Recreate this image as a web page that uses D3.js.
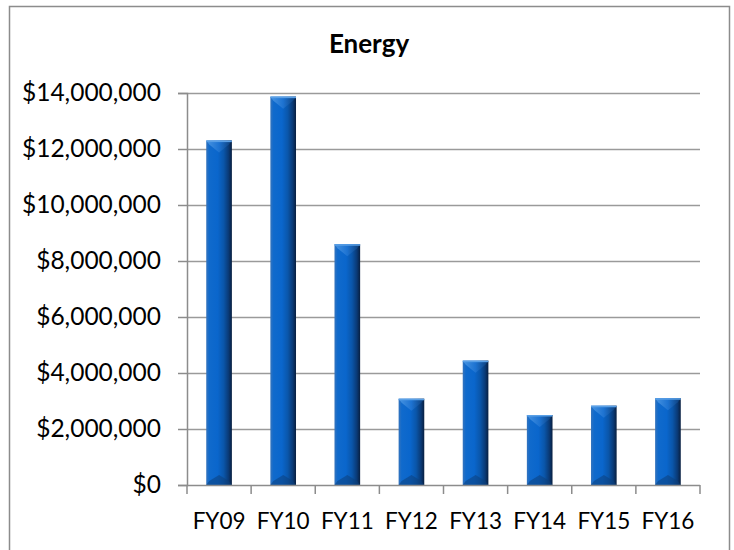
<!DOCTYPE html>
<html>
<head>
<meta charset="utf-8">
<script src="https://cdn.jsdelivr.net/npm/d3@7"></script>
<style>
html,body{margin:0;padding:0;background:#fff;}
svg{display:block;}
text{font-family:Lato,"Open Sans",sans-serif;fill:#000;}
</style>
</head>
<body>
<svg id="chart" width="734" height="550"></svg>
<script>
const categories = ["FY09","FY10","FY11","FY12","FY13","FY14","FY15","FY16"];
const values = [12300000, 13870000, 8600000, 3080000, 4440000, 2500000, 2830000, 3100000];
const yTicks = [0, 2000000, 4000000, 6000000, 8000000, 10000000, 12000000, 14000000];
const title = "Energy";

(function () {
const svg = d3.select("#chart");
const W = 734, H = 550;
const pLeft = 187, pRight = 700, pTop = 93, pBottom = 485;

// outer frame
svg.append("path")
  .attr("d", `M9.5,${H+2} L9.5,6.5 L729.5,6.5 L729.5,${H+2}`)
  .attr("fill", "none").attr("stroke", "#8c8c8c").attr("stroke-width", 1.5);

const x = d3.scaleBand().domain(categories).range([pLeft, pRight]).paddingInner(0.6).paddingOuter(0.3);
const y = d3.scaleLinear().domain([0, 14000000]).range([pBottom, pTop]);

const defs = svg.append("defs");
const g1 = defs.append("linearGradient").attr("id", "barGrad").attr("x1", "0").attr("x2", "1").attr("y1", "0").attr("y2", "0");
[[0, "#3574bd"], [0.12, "#106acc"], [0.45, "#0a66cc"], [0.68, "#0a56aa"], [0.87, "#0a3a76"], [1, "#081f40"]]
  .forEach(([o, c]) => g1.append("stop").attr("offset", o).attr("stop-color", c));
const g2 = defs.append("linearGradient").attr("id", "capGrad").attr("x1", "0").attr("x2", "1").attr("y1", "0").attr("y2", "0");
[[0, "#4d98e4"], [0.5, "#1f74d2"], [1, "#0c3c76"]]
  .forEach(([o, c]) => g2.append("stop").attr("offset", o).attr("stop-color", c));

// gridlines
svg.append("g").selectAll("line").data(yTicks.filter(d => d > 0)).join("line")
  .attr("x1", pLeft).attr("x2", pRight)
  .attr("y1", d => Math.round(y(d)) + 0.5).attr("y2", d => Math.round(y(d)) + 0.5)
  .attr("stroke", "#9a9a9a").attr("stroke-width", 1.5);

// y axis
const fmt = d => "$" + d3.format(",")(d);
const yAxis = svg.append("g").attr("transform", `translate(${pLeft},0)`)
  .call(d3.axisLeft(y).tickValues(yTicks).tickSize(9).tickPadding(17).tickFormat(fmt));
yAxis.select(".domain").attr("stroke", "#8c8c8c").attr("stroke-width", 1.5);
yAxis.selectAll(".tick line").attr("stroke", "#8c8c8c").attr("stroke-width", 1.5);
yAxis.selectAll(".tick text").style("font-size", "24.5px").style("font-family", "Lato").attr("fill", "#000");

// bars
const bars = svg.append("g").selectAll("g").data(categories).join("g");
bars.append("rect")
  .attr("x", d => x(d)).attr("width", x.bandwidth())
  .attr("y", (d, i) => y(values[i])).attr("height", (d, i) => y(0) - y(values[i]))
  .attr("fill", "url(#barGrad)");
// top bevel
bars.append("path")
  .attr("d", (d, i) => {
    const x0 = x(d), w = x.bandwidth(), t = y(values[i]);
    return `M${x0},${t} L${x0 + w},${t} L${x0 + w - 3},${t + 4} L${x0 + w / 2},${t + 12} L${x0 + 3},${t + 4} Z`;
  })
  .attr("fill", "url(#capGrad)").attr("opacity", 0.9);
bars.append("rect")
  .attr("x", d => x(d)).attr("width", x.bandwidth())
  .attr("y", (d, i) => y(values[i])).attr("height", 1.5)
  .attr("fill", "#5aa0e6");
// bottom bevel
bars.append("path")
  .attr("d", d => {
    const x0 = x(d), w = x.bandwidth(), b = y(0);
    return `M${x0},${b} L${x0 + w},${b} L${x0 + w - 3},${b - 4} L${x0 + w / 2},${b - 10} L${x0 + 3},${b - 4} Z`;
  })
  .attr("fill", "#0c3f7c").attr("opacity", 0.55);

// x axis
const xAxisG = svg.append("g");
xAxisG.append("line").attr("x1", pLeft).attr("x2", pRight).attr("y1", pBottom + 0.5).attr("y2", pBottom + 0.5)
  .attr("stroke", "#8c8c8c").attr("stroke-width", 1.5);
const bounds = categories.map(c => x(c) - x.step() * x.paddingInner() / 2);
bounds[0] = pLeft; bounds.push(pRight);
xAxisG.selectAll("line.tk").data(bounds).join("line").attr("class", "tk")
  .attr("x1", d => d).attr("x2", d => d).attr("y1", pBottom).attr("y2", pBottom + 9)
  .attr("stroke", "#8c8c8c").attr("stroke-width", 1.5);
xAxisG.selectAll("text").data(categories).join("text")
  .attr("x", d => x(d) + x.bandwidth() / 2).attr("y", 529)
  .attr("text-anchor", "middle").style("font-size", "22.5px").text(d => d);

// title
svg.append("text").attr("x", 369).attr("y", 53).attr("text-anchor", "middle")
  .style("font-size", "26px").style("font-weight", "bold").text(title);
})();
</script>
</body>
</html>
